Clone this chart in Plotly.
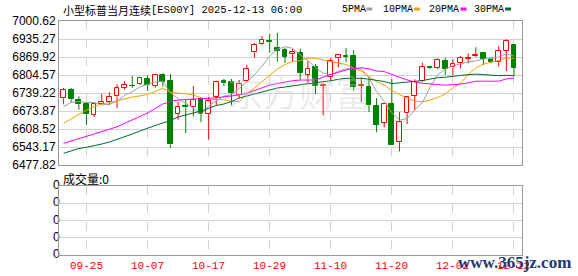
import plotly.graph_objects as go
import pandas as pd

# ---------------- data ----------------
dates = ['09-22','09-23','09-24','09-25','09-26','09-29','09-30',
         '10-01','10-02','10-03','10-06','10-07','10-08','10-09','10-10','10-13','10-14','10-15','10-16','10-17',
         '10-20','10-21','10-22','10-23','10-24','10-27','10-28','10-29','10-30','10-31',
         '11-03','11-04','11-05','11-06','11-07','11-10','11-11','11-12','11-13','11-14','11-17','11-18','11-19',
         '11-20','11-21','11-24','11-25','11-26','11-27','11-28',
         '12-01','12-02','12-03','12-04','12-05','12-08','12-09','12-10','12-11','12-12']

opens = [6720.0, 6749.0, 6714.9, 6699.3, 6659.3, 6699.3, 6705.4, 6727.2, 6758.4, 6765.7,
         6770.8, 6788.9, 6765.7, 6803.5, 6781.7, 6664.0, 6690.9, 6687.3, 6716.3, 6661.9,
         6725.8, 6781.7, 6778.0, 6730.8, 6781.7, 6887.0, 6917.1, 6928.0, 6904.4, 6895.3,
         6880.8, 6884.4, 6805.6, 6833.6, 6764.6, 6797.3, 6865.2, 6872.4, 6872.4, 6764.6,
         6761.0, 6690.9, 6630.3, 6699.3, 6561.3, 6665.5, 6729.4, 6782.8, 6832.5, 6831.1,
         6855.4, 6832.5, 6847.0, 6862.6, 6872.4, 6883.3, 6862.6, 6850.7, 6892.8, 6913.5]
highs = [6757.4, 6757.4, 6727.2, 6705.4, 6700.3, 6735.6, 6741.7, 6770.8, 6782.8, 6800.9,
         6797.3, 6803.5, 6805.6, 6810.7, 6808.2, 6706.5, 6714.9, 6763.5, 6724.7, 6724.7,
         6783.9, 6790.0, 6790.0, 6786.4, 6840.9, 6920.7, 6946.1, 6954.5, 6957.0, 6902.6,
         6900.0, 6900.0, 6856.5, 6844.5, 6774.4, 6866.3, 6880.8, 6902.6, 6894.2, 6796.2,
         6796.2, 6721.0, 6702.9, 6790.0, 6670.2, 6728.3, 6788.9, 6849.2, 6833.6, 6865.2,
         6867.4, 6861.5, 6873.5, 6883.3, 6905.1, 6887.0, 6868.8, 6909.8, 6934.2, 6917.1]
lows = [6698.2, 6705.4, 6678.6, 6623.0, 6652.1, 6698.2, 6695.6, 6683.6, 6751.2, 6757.4,
        6768.2, 6746.5, 6758.4, 6762.1, 6540.6, 6642.3, 6594.0, 6654.6, 6632.8, 6569.6,
        6693.1, 6763.5, 6694.5, 6718.5, 6779.1, 6867.4, 6914.6, 6884.4, 6852.8, 6848.1,
        6854.3, 6787.5, 6771.9, 6735.6, 6658.2, 6783.9, 6832.5, 6850.7, 6747.5, 6706.5,
        6670.2, 6596.5, 6614.7, 6550.4, 6527.5, 6626.6, 6677.5, 6780.2, 6826.3, 6826.3,
        6804.5, 6804.5, 6828.9, 6847.0, 6868.8, 6840.9, 6847.0, 6834.7, 6819.1, 6800.9]
closes = [6749.0, 6716.3, 6698.2, 6661.9, 6698.2, 6706.5, 6724.7, 6756.3, 6768.2, 6763.5,
          6794.7, 6768.2, 6803.5, 6780.2, 6552.9, 6687.6, 6687.3, 6712.7, 6664.0, 6709.1,
          6778.0, 6776.6, 6738.1, 6773.0, 6825.2, 6914.6, 6931.6, 6925.4, 6891.7, 6871.7,
          6887.0, 6811.8, 6826.3, 6763.5, 6768.2, 6856.5, 6877.2, 6869.9, 6762.1, 6768.2,
          6694.5, 6624.1, 6699.3, 6551.5, 6632.8, 6723.6, 6780.2, 6832.5, 6828.9, 6859.0,
          6826.3, 6843.4, 6865.2, 6865.2, 6878.2, 6862.6, 6850.7, 6892.8, 6928.0, 6831.1]
volumes = [0] * 60

ma5_head = [6689.5, 6705.4, 6708.3, 6704.7]
ma10_head = [6629.2, 6645.9, 6663.0, 6677.5, 6690.2, 6699.3, 6704.7, 6712.0, 6719.2]
ma20_head = [6556.6, 6564.9, 6572.2, 6583.1, 6589.3, 6598.7, 6607.4, 6616.8, 6629.2, 6641.2,
             6653.2, 6666.6, 6682.9, 6699.3, 6708.3, 6713.8, 6715.6, 6716.3, 6717.4]
ma30_head = [6520.3, 6530.4, 6537.7, 6542.1, 6546.8, 6554.0, 6561.3, 6570.4, 6579.5, 6590.3,
             6601.2, 6612.1, 6621.2, 6630.3, 6639.4, 6652.1, 6660.4, 6666.6, 6673.8, 6684.7,
             6693.8, 6699.3, 6708.3, 6721.0, 6728.3, 6735.6, 6744.6, 6751.9, 6757.3]

y_ticks = [7000.62, 6935.27, 6869.92, 6804.57, 6739.22, 6673.87, 6608.52, 6543.17, 6477.82]
vol_ticks = [0, 1, 2, 3, 4]
vol_labels = ["0", "0", "0", "0", "0"]
x_tick_dates = dates[3::8]
title_cn = "小型标普当月连续"
title_code = "[ES00Y] 2025-12-13 06:00"
ma_names = ["5PMA", "10PMA", "20PMA", "30PMA"]

# ---------------- styles ----------------
UP = "#ff0000"
DOWN = "#008000"
MA_COLORS = ["#a0a0a0", "#f5a000", "#ff00ff", "#006a2c"]
GRID = "#d2d2d2"
FRAME = "#999999"

def ma(n, head):
    s = pd.Series(closes).rolling(n).mean().tolist()
    s[:n - 1] = head
    return s

mas = [ma(5, ma5_head), ma(10, ma10_head), ma(20, ma20_head), ma(30, ma30_head)]

fig = go.Figure()

# bodies
bases = [min(o, c) for o, c in zip(opens, closes)]
heights = [max(abs(c - o), 0.8) for o, c in zip(opens, closes)]
fills = ["#ffffff" if c >= o else DOWN for o, c in zip(opens, closes)]
edges = [UP if c >= o else DOWN for o, c in zip(opens, closes)]
fig.add_trace(go.Bar(x=dates, y=heights, base=bases, width=0.62,
                     marker=dict(color=fills, line=dict(color=edges, width=1)),
                     xaxis="x", yaxis="y"))

# wicks (upper and lower segments so hollow bodies stay empty)
for color, up in [(UP, True), (DOWN, False)]:
    xs, ys = [], []
    for d, o, h, l, c in zip(dates, opens, highs, lows, closes):
        if (c >= o) != up:
            continue
        top, bot = max(o, c), min(o, c)
        xs += [d, d, None, d, d, None]
        ys += [h, top, None, bot, l, None]
    fig.add_trace(go.Scatter(x=xs, y=ys, mode="lines", line=dict(color=color, width=1),
                             hoverinfo="skip", xaxis="x", yaxis="y"))

# moving averages
for vals, col in zip(mas, MA_COLORS):
    fig.add_trace(go.Scatter(x=dates, y=vals, mode="lines", line=dict(color=col, width=1),
                             xaxis="x", yaxis="y"))

# volume panel: zero-volume line plus the "0" scale labels drawn as text at the first date
fig.add_trace(go.Scatter(x=dates, y=volumes, mode="lines", line=dict(color="rgba(0,0,0,0)", width=0),
                         hoverinfo="skip", xaxis="x2", yaxis="y2"))
fig.add_trace(go.Scatter(x=[dates[0]] * len(vol_ticks), y=vol_ticks,
                         text=[lab + "\u2004" for lab in vol_labels],
                         mode="text", textposition="middle left", cliponaxis=False,
                         textfont=dict(family="Liberation Sans, Arial, sans-serif", size=12, color="#000"),
                         hoverinfo="skip", xaxis="x2", yaxis="y2"))

# ---------------- layout ----------------
Lpx, Rpx, Tpx, Bpx = 55, 522, 21, 255
W, H = 578, 276
def px(x):
    return (x - Lpx) / (Rpx - Lpx)
def py(y):
    return (Bpx - y) / (Bpx - Tpx)

main_bottom = py(165)
vol_top = py(186)

xcommon = dict(type="category", categoryorder="array", categoryarray=dates,
               range=[-0.6, 60.05], tickvals=x_tick_dates, showticklabels=False,
               showgrid=True, gridcolor=GRID, griddash="dash", gridwidth=1,
               showline=True, mirror=True, linecolor=FRAME, linewidth=1,
               ticks="", zeroline=False, fixedrange=True)

fig.update_layout(
    width=W, height=H,
    margin=dict(l=Lpx, r=W - Rpx, t=Tpx, b=H - Bpx, pad=0),
    paper_bgcolor="white", plot_bgcolor="white",
    showlegend=False, bargap=0, barmode="overlay",
    xaxis=dict(xcommon, domain=[0, 1], anchor="y"),
    xaxis2=dict(xcommon, domain=[0, 1], anchor="y2", matches="x"),
    yaxis=dict(domain=[main_bottom, 1], anchor="x", range=[y_ticks[-1], y_ticks[0]], tickvals=y_ticks,
               ticktext=[f"{v:.2f}" for v in y_ticks],
               showgrid=True, gridcolor=GRID, gridwidth=1, zeroline=False,
               showline=True, mirror=True, linecolor=FRAME, linewidth=1, ticks="",
               tickfont=dict(family="Liberation Sans, Arial, sans-serif", size=12, color="#000000")),
    yaxis2=dict(domain=[0, vol_top], anchor="x2", range=[vol_ticks[0], vol_ticks[-1]],
                tickmode="array", tickvals=vol_ticks, showticklabels=False,
                showgrid=True, gridcolor=GRID, gridwidth=1, zeroline=False,
                showline=True, mirror=True, linecolor=FRAME, linewidth=1, ticks=""),
)

ann = []
shapes = []

# date labels under the volume panel, placed on the category axis
for d in x_tick_dates:
    ann.append(dict(text=d, x=d, xref="x2", y=py(266), yref="paper",
                    xanchor="center", yanchor="middle", showarrow=False,
                    font=dict(family="Liberation Mono, DejaVu Sans Mono, monospace", size=11, color="#ff0000")))

ann.append(dict(text=title_cn, x=px(57), y=py(10), xref="paper", yref="paper",
                xanchor="left", yanchor="middle", showarrow=False,
                font=dict(family="Noto Sans CJK SC", size=11, color="#000")))
ann.append(dict(text=title_code, x=px(146), y=py(10), xref="paper", yref="paper",
                xanchor="left", yanchor="middle", showarrow=False,
                font=dict(family="Liberation Mono, monospace", size=10.5, color="#000")))
ann.append(dict(text="成交量:0", x=px(57), y=py(178), xref="paper", yref="paper",
                xanchor="left", yanchor="middle", showarrow=False,
                font=dict(family="Noto Sans CJK SC", size=12, color="#000")))

legend_x = [338, 380, 426, 472]
square_x = [365, 413, 460, 505]
for name, lx, sx, col in zip(ma_names, legend_x, square_x, MA_COLORS):
    ann.append(dict(text=name, x=px(lx), y=py(10), xref="paper", yref="paper",
                    xanchor="left", yanchor="middle", showarrow=False,
                    font=dict(family="Liberation Mono, monospace", size=10, color="#000")))
    shapes.append(dict(type="rect", xref="paper", yref="paper",
                       x0=px(sx), x1=px(sx + 6), y0=py(10.5), y1=py(7.5),
                       fillcolor=col, line=dict(width=0)))

# watermarks
ann.append(dict(text="东方财富", x=px(297), y=py(91), xref="paper", yref="paper",
                xanchor="center", yanchor="middle", showarrow=False,
                font=dict(family="Noto Sans CJK SC", size=36, color="rgba(200,200,200,0.35)")))
ann.append(dict(text="<b>www.365jz.com</b>", x=px(514), y=py(262), xref="paper", yref="paper",
                xanchor="center", yanchor="middle", showarrow=False,
                font=dict(family="Liberation Serif, serif", size=17, color="#1e3a70")))

fig.update_layout(annotations=ann, shapes=shapes)

fig.write_html("out.html", config={"displayModeBar": False})
